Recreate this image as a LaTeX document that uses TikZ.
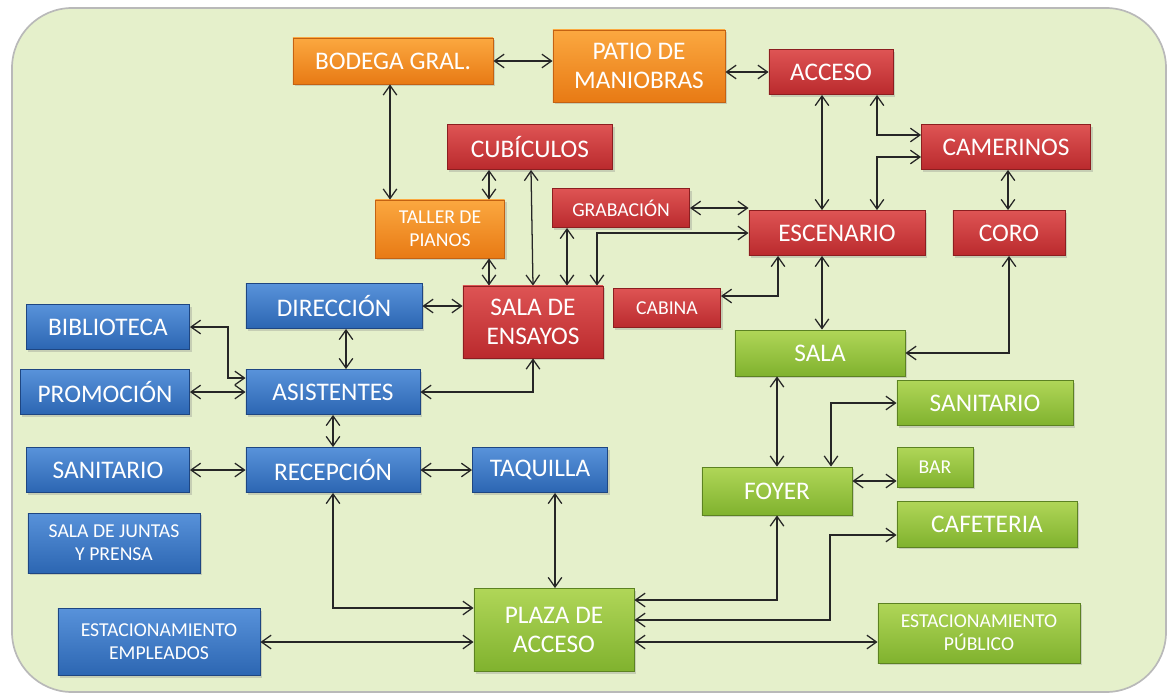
\documentclass[tikz,border=0pt]{standalone}
\usepackage{fontspec}
\setmainfont{Carlito}
\usetikzlibrary{arrows.meta,%
                shadows}

\definecolor{fondo}{RGB}{229,240,203}
\definecolor{naranjaA}{RGB}{251,168,64}
\definecolor{naranjaB}{RGB}{232,122,20}
\definecolor{naranjaC}{RGB}{196,98,18}
\definecolor{rojoA}{RGB}{222,84,84}
\definecolor{rojoB}{RGB}{186,42,45}
\definecolor{rojoC}{RGB}{140,30,32}
\definecolor{azulA}{RGB}{88,146,218}
\definecolor{azulB}{RGB}{44,102,178}
\definecolor{azulC}{RGB}{30,70,130}
\definecolor{verdeA}{RGB}{176,214,88}
\definecolor{verdeB}{RGB}{128,178,46}
\definecolor{verdeC}{RGB}{92,130,34}

\begin{document}
\begin{tikzpicture}[x=0.025cm,y=-0.025cm]
  \tikzstyle{Caja}=[draw,rectangle,text=white,align=center,inner sep=0pt,line width=0.6pt,
                    font=\fontsize{18}{21}\selectfont,
                    drop shadow={opacity=0.3,shadow xshift=0.05cm,shadow yshift=-0.06cm}]
  \tikzstyle{Chica}=[font=\fontsize{14}{16.5}\selectfont]
  \tikzstyle{Naranja}=[Caja,top color=naranjaA,bottom color=naranjaB,draw=naranjaC]
  \tikzstyle{Roja}=[Caja,top color=rojoA,bottom color=rojoB,draw=rojoC]
  \tikzstyle{Azul}=[Caja,top color=azulA,bottom color=azulB,draw=azulC]
  \tikzstyle{Verde}=[Caja,top color=verdeA,bottom color=verdeB,draw=verdeC]
  \tikzstyle{EdgeStyle}=[{Straight Barb[length=2.4mm,width=3.4mm]}-{Straight Barb[length=2.4mm,width=3.4mm]},
                         line width=0.9pt,black!85]
  \useasboundingbox (0,0) rectangle (1170,698);
  \draw[fill=fondo,draw=gray!55,line width=1.2pt,rounded corners=1.5cm] (12,8) rectangle (1166,692);
  % servicio
  \node[Naranja,minimum width=5cm,minimum height=1.15cm] (bodega) at (393,61) {BODEGA GRAL.};
  \node[Naranja,minimum width=4.3cm,minimum height=1.8cm] (patio) at (639,66) {PATIO DE\\MANIOBRAS};
  \node[Naranja,Chica,minimum width=3.225cm,minimum height=1.45cm] (taller) at (440,229) {TALLER DE\\PIANOS};
  % escena
  \node[Roja,minimum width=3.1cm,minimum height=1.125cm] (acceso) at (831,72) {ACCESO};
  \node[Roja,minimum width=4.125cm,minimum height=1.125cm] (cubiculos) at (530,147) {CUBÍCULOS};
  \node[Roja,minimum width=4.225cm,minimum height=1.125cm] (camerinos) at (1006,147) {CAMERINOS};
  \node[Roja,Chica,minimum width=3.425cm,minimum height=0.975cm] (grabacion) at (621,208) {GRABACIÓN};
  \node[Roja,minimum width=4.4cm,minimum height=1.125cm] (escenario) at (837,233) {ESCENARIO};
  \node[Roja,minimum width=2.8cm,minimum height=1.125cm] (coro) at (1009,233) {CORO};
  \node[Roja,minimum width=3.5cm,minimum height=1.8cm] (ensayos) at (533,322) {SALA DE\\ENSAYOS};
  \node[Roja,Chica,minimum width=2.675cm,minimum height=0.975cm] (cabina) at (667,308) {CABINA};
  % administracion
  \node[Azul,minimum width=4.4cm,minimum height=1.125cm] (direccion) at (334,306) {DIRECCIÓN};
  \node[Azul,minimum width=4.075cm,minimum height=1.125cm] (biblioteca) at (108,327) {BIBLIOTECA};
  \node[Azul,minimum width=4.35cm,minimum height=1.125cm] (asistentes) at (333,392) {ASISTENTES};
  \node[Azul,minimum width=4.225cm,minimum height=1.125cm] (promocion) at (105,392) {PROMOCIÓN};
  \node[Azul,minimum width=4.075cm,minimum height=1.125cm] (sanitarioA) at (108,470) {SANITARIO};
  \node[Azul,minimum width=4.35cm,minimum height=1.125cm] (recepcion) at (333,470) {RECEPCIÓN};
  \node[Azul,minimum width=3.375cm,minimum height=1.125cm] (taquilla) at (540,470) {TAQUILLA};
  \node[Azul,Chica,minimum width=4.3cm,minimum height=1.5cm] (juntas) at (114,543) {SALA DE JUNTAS\\Y PRENSA};
  \node[Azul,Chica,minimum width=5.05cm,minimum height=1.675cm] (empleados) at (159,642) {ESTACIONAMIENTO\\EMPLEADOS};
  % publico
  \node[Verde,minimum width=4.25cm,minimum height=1.15cm] (sala) at (820,353) {SALA};
  \node[Verde,minimum width=4.4cm,minimum height=1.125cm] (sanitarioB) at (985,403) {SANITARIO};
  \node[Verde,Chica,minimum width=1.9cm,minimum height=1cm] (bar) at (935,467) {BAR};
  \node[Verde,minimum width=3.75cm,minimum height=1.2cm] (foyer) at (777,491) {FOYER};
  \node[Verde,minimum width=4.5cm,minimum height=1.15cm] (cafeteria) at (987,524) {CAFETERIA};
  \node[Verde,minimum width=4cm,minimum height=2.075cm] (plaza) at (554,630) {PLAZA DE\\ACCESO};
  \node[Verde,Chica,minimum width=5.05cm,minimum height=1.5cm] (publico) at (979,633) {ESTACIONAMIENTO\\PÚBLICO};
  % conexiones
  \draw[EdgeStyle] (bodega.east) -- (patio.west |- bodega.east);
  \draw[EdgeStyle] (patio.east |- acceso.west) -- (acceso.west);
  \draw[EdgeStyle] (390,0 |- bodega.south) -- (390,0 |- taller.north);
  \draw[EdgeStyle] (489,0 |- cubiculos.south) -- (489,0 |- taller.north);
  \draw[EdgeStyle] (531,0 |- cubiculos.south) -- (533,0 |- ensayos.north);
  \draw[EdgeStyle] (489,0 |- taller.south) -- (489,0 |- ensayos.north);
  \draw[EdgeStyle] (567,0 |- grabacion.south) -- (567,0 |- ensayos.north);
  \draw[EdgeStyle] (grabacion.east) -- (escenario.west |- grabacion.east);
  \draw[EdgeStyle] (escenario.west) -| (597,0 |- ensayos.north);
  \draw[EdgeStyle] (822,0 |- acceso.south) -- (822,0 |- escenario.north);
  \draw[EdgeStyle] (877,0 |- acceso.south) |- (camerinos.west |- 0,135);
  \draw[EdgeStyle] (877,0 |- escenario.north) |- (camerinos.west |- 0,157);
  \draw[EdgeStyle] (1008,0 |- camerinos.south) -- (1008,0 |- coro.north);
  \draw[EdgeStyle] (778,0 |- escenario.south) |- (cabina.east |- 0,296);
  \draw[EdgeStyle] (822,0 |- escenario.south) -- (822,0 |- sala.north);
  \draw[EdgeStyle] (coro.south) |- (sala.east);
  \draw[EdgeStyle] (direccion.east) -- (ensayos.west |- direccion.east);
  \draw[EdgeStyle] (346,0 |- direccion.south) -- (346,0 |- asistentes.north);
  \draw[EdgeStyle] (biblioteca.east) -| (228,378) -- (asistentes.west |- 0,378);
  \draw[EdgeStyle] (promocion.east) -- (asistentes.west |- promocion.east);
  \draw[EdgeStyle] (asistentes.east) -| (ensayos.south);
  \draw[EdgeStyle] (asistentes.south) -- (recepcion.north);
  \draw[EdgeStyle] (sanitarioA.east) -- (recepcion.west);
  \draw[EdgeStyle] (recepcion.east) -- (taquilla.west);
  \draw[EdgeStyle] (recepcion.south) |- (plaza.west |- 0,608);
  \draw[EdgeStyle] (555,0 |- taquilla.south) -- (555,0 |- plaza.north);
  \draw[EdgeStyle] (777,0 |- sala.south) -- (777,0 |- foyer.north);
  \draw[EdgeStyle] (831,0 |- foyer.north) |- (sanitarioB.west);
  \draw[EdgeStyle] (foyer.east |- 0,481) -- (bar.west |- 0,481);
  \draw[EdgeStyle] (foyer.south) |- (plaza.east |- 0,600);
  \draw[EdgeStyle] (cafeteria.west |- 0,535) -| (830,620) -- (plaza.east |- 0,620);
  \draw[EdgeStyle] (empleados.east) -- (plaza.west |- empleados.east);
  \draw[EdgeStyle] (plaza.east |- 0,642) -- (publico.west |- 0,642);
\end{tikzpicture}
\end{document}
